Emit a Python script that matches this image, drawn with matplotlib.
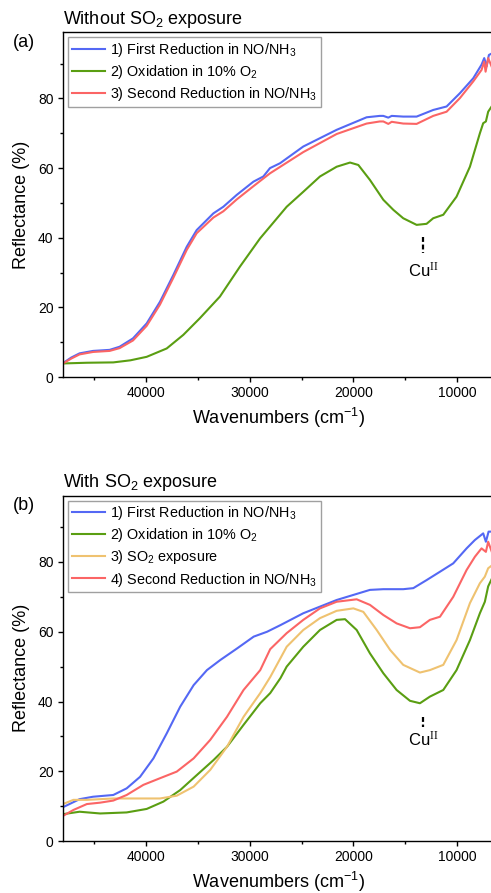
import matplotlib
matplotlib.use('Agg')
import matplotlib.pyplot as plt
from matplotlib.ticker import MultipleLocator

plt.rcParams.update({
    'font.family': ['Liberation Sans', 'DejaVu Sans'],
    'mathtext.fontset': 'custom',
    'mathtext.rm': 'Liberation Sans',
    'mathtext.it': 'Liberation Sans:italic',
    'mathtext.cal': 'Liberation Serif',
    'font.size': 10,
    'axes.linewidth': 1.0,
})

# colours
c_blue = '#5468f4'
c_green = '#5a9e12'
c_yellow = '#efc270'
c_red = '#fb6565'

# (a) without SO2 exposure
a_wn_first = [48000, 47200, 46400, 45100, 43500, 42540, 41250, 39930, 38650, 37360, 36070, 35110,
              33500, 32540, 31250, 29640, 28680, 28040, 27070, 24830, 21610, 18720, 17450, 17110,
              16630, 16300, 15190, 13900, 12300, 11010, 9730, 8440, 7640, 7380, 7150, 6930, 6600]
a_first = [4.0, 5.6, 6.8, 7.5, 7.8, 8.7, 11.1, 15.4, 21.6, 29.3, 37.4, 42.2,
           47.0, 48.9, 52.3, 56.1, 57.6, 60.0, 61.4, 66.2, 71.0, 74.6, 75.0, 75.0,
           74.5, 75.0, 74.8, 74.8, 76.7, 77.7, 81.5, 85.8, 89.7, 91.6, 89.2, 92.5, 93.0]

a_wn_ox = [48000, 45700, 43150, 41500, 39930, 38000, 36400, 34800, 32870, 30940, 29000, 28040,
           26430, 24830, 23220, 21610, 20320, 19520, 18400, 17110, 16140, 15190, 13900, 12940,
           12300, 11330, 10050, 8760, 7800, 7480, 7220, 7000, 6600]
a_ox = [3.9, 4.1, 4.2, 4.8, 5.8, 8.2, 12.1, 16.9, 23.1, 31.7, 39.8, 43.2,
        48.9, 53.2, 57.6, 60.4, 61.6, 60.9, 56.6, 50.9, 48.0, 45.6, 43.7, 44.0,
        45.6, 46.6, 51.8, 60.4, 70.0, 72.9, 73.4, 76.2, 78.0]

a_wn_second = [48000, 47200, 46400, 45100, 43500, 42540, 41250, 39930, 38650, 37360, 36070, 35110,
               33500, 32540, 31250, 29640, 28040, 24830, 21610, 18720, 17450, 17110, 16630, 16300,
               15190, 13900, 12300, 11010, 9730, 8440, 7640, 7380, 7250, 7000, 6600]
a_second = [3.9, 5.3, 6.5, 7.2, 7.5, 8.3, 10.5, 14.7, 20.8, 28.5, 36.5, 41.3,
            45.8, 47.6, 51.0, 54.8, 58.5, 64.6, 69.8, 72.8, 73.4, 73.4, 72.7, 73.3,
            72.8, 72.7, 75.0, 76.2, 80.1, 84.9, 88.2, 90.6, 87.7, 91.6, 88.7]

# (b) with SO2 exposure
b_wn_first = [48000, 46400, 45100, 43150, 41860, 40570, 39280, 37990, 36700, 35400, 34120, 32830,
              31220, 29610, 28320, 27030, 24830, 21610, 18400, 17110, 15190, 14220, 12940, 11650,
              10370, 9080, 8280, 7480, 7220, 6960, 6600]
b_first = [9.7, 12.0, 12.7, 13.2, 15.1, 18.4, 23.7, 30.9, 38.5, 44.7, 49.0, 51.9,
           55.2, 58.6, 60.0, 61.9, 65.3, 69.1, 72.0, 72.2, 72.2, 72.5, 74.8, 77.2,
           79.6, 83.9, 86.3, 88.2, 85.8, 88.7, 88.7]

b_wn_ox = [48000, 46400, 44420, 41860, 39930, 38320, 36700, 35100, 33490, 32190, 30590, 28980,
           28020, 27030, 26430, 24830, 23220, 21610, 20800, 19680, 18400, 17110, 15830, 14540,
           13580, 12620, 11330, 10050, 8760, 7800, 7320, 7000, 6600]
b_ox = [7.7, 8.4, 7.9, 8.2, 9.2, 11.3, 14.6, 18.9, 23.2, 27.0, 33.3, 39.5,
        42.4, 46.7, 50.0, 55.7, 60.5, 63.4, 63.6, 60.5, 53.8, 48.1, 43.3, 40.2,
        39.5, 41.4, 43.3, 49.0, 57.6, 65.3, 68.6, 73.0, 75.5]

b_wn_so2 = [48000, 47000, 45700, 43150, 40250, 38650, 37030, 35400, 33800, 32190, 30590, 28980,
            28020, 26430, 24830, 23220, 21610, 20000, 19040, 17750, 16460, 15190, 13580, 12620,
            11330, 10050, 8760, 7800, 7320, 7000, 6600]
b_so2 = [10.6, 11.8, 11.8, 12.2, 12.2, 12.2, 13.0, 15.6, 20.4, 27.0, 35.6, 42.4,
         47.0, 55.7, 60.5, 63.9, 66.0, 66.7, 65.7, 60.5, 54.8, 50.5, 48.3, 49.0,
         50.5, 57.6, 68.2, 73.9, 75.8, 78.2, 79.1]

b_wn_second = [48000, 47000, 45700, 44420, 43150, 41860, 40250, 38650, 37030, 35400, 33800, 32190,
               30590, 28980, 28020, 26430, 24830, 23220, 21610, 19680, 18400, 17110, 15830, 14540,
               13580, 12620, 11650, 10370, 9080, 8280, 7640, 7220, 7000, 6600]
b_second = [7.2, 8.9, 10.6, 11.0, 11.6, 13.2, 16.1, 18.0, 19.9, 23.7, 29.0, 35.6,
            43.3, 49.0, 55.0, 59.6, 63.4, 66.7, 68.6, 69.3, 67.7, 64.8, 62.4, 61.0,
            61.3, 63.4, 64.3, 70.0, 77.7, 81.5, 83.9, 82.9, 85.8, 82.5]

# Cu(II) marker: position, line top/bottom, text y
cu_wn = 13300
a_cu = (40.2, 35.6, 30.5)
b_cu = (35.6, 32.8, 29.0)


def style_axes(ax):
    ax.set_xlim(48000, 6500)
    ax.set_ylim(0, 99)
    ax.xaxis.set_major_locator(MultipleLocator(10000))
    ax.xaxis.set_minor_locator(MultipleLocator(5000))
    ax.yaxis.set_major_locator(MultipleLocator(20))
    ax.yaxis.set_minor_locator(MultipleLocator(10))
    ax.tick_params(which='both', direction='out', top=False, right=False, width=1.0,
                   labelsize=10, pad=3)
    ax.tick_params(which='major', length=3.8)
    ax.tick_params(which='minor', length=2.3)
    ax.spines['right'].set_visible(False)
    ax.set_xlabel('Wavenumbers (cm$^{-1}$)', fontsize=13, labelpad=4)
    ax.set_ylabel('Reflectance (%)', fontsize=13, labelpad=6)


def add_cu(ax, cu):
    ax.plot([cu_wn, cu_wn], [cu[0], cu[1]], color='black', lw=1.6, ls=(0, (2.2, 1.2)))
    ax.text(cu_wn, cu[2], r'Cu$^{\mathcal{II}}$', ha='center', va='center', fontsize=12)


fig = plt.figure(figsize=(4.91, 8.93), dpi=100)
ax1 = fig.add_axes([0.1283, 0.5778, 0.8765, 0.3860])
ax2 = fig.add_axes([0.1283, 0.0582, 0.8765, 0.3867])

lw = 1.5
ax1.plot(a_wn_first, a_first, color=c_blue, lw=lw, label='1) First Reduction in NO/NH$_3$')
ax1.plot(a_wn_ox, a_ox, color=c_green, lw=lw, label='2) Oxidation in 10% O$_2$')
ax1.plot(a_wn_second, a_second, color=c_red, lw=lw, label='3) Second Reduction in NO/NH$_3$')
style_axes(ax1)
add_cu(ax1, a_cu)
ax1.text(0.0, 1.008, 'Without SO$_2$ exposure', transform=ax1.transAxes, fontsize=13,
         ha='left', va='bottom')
fig.text(0.027, 0.952, '(a)', fontsize=13, ha='left', va='center')

ax2.plot(b_wn_first, b_first, color=c_blue, lw=lw, label='1) First Reduction in NO/NH$_3$')
ax2.plot(b_wn_ox, b_ox, color=c_green, lw=lw, label='2) Oxidation in 10% O$_2$')
ax2.plot(b_wn_so2, b_so2, color=c_yellow, lw=lw, label='3) SO$_2$ exposure')
ax2.plot(b_wn_second, b_second, color=c_red, lw=lw, label='4) Second Reduction in NO/NH$_3$')
style_axes(ax2)
add_cu(ax2, b_cu)
ax2.text(0.0, 1.008, 'With SO$_2$ exposure', transform=ax2.transAxes, fontsize=13,
         ha='left', va='bottom')
fig.text(0.027, 0.434, '(b)', fontsize=13, ha='left', va='center')

for ax in (ax1, ax2):
    leg = ax.legend(loc='upper left', fontsize=10.4, frameon=True, fancybox=False,
                    handlelength=2.3, handletextpad=0.35, labelspacing=0.28,
                    borderpad=0.25, borderaxespad=0.35, framealpha=1.0)
    leg.get_frame().set_edgecolor('#a0a0a0')
    leg.get_frame().set_linewidth(1.0)

fig.savefig('out.png', dpi=100)
